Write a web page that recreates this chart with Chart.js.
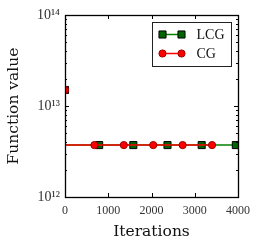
<!DOCTYPE html>
<html>
<head>
<meta charset="utf-8">
<script src="https://cdn.jsdelivr.net/npm/chart.js@4/dist/chart.umd.min.js"></script>
<style>
  html, body { margin: 0; padding: 0; background: #fff; }
  #wrap { width: 266px; height: 249px; }
</style>
</head>
<body>
<div id="wrap"><canvas id="chart"></canvas></div>
<script>
"use strict";

// values
const lcgIters  = [0, 0, 790, 1580, 2370, 3160, 3950];
const lcgValues = [1.5e13, 3.72e12, 3.72e12, 3.72e12, 3.72e12, 3.72e12, 3.72e12];
const cgIters   = [0, 0, 680, 1360, 2040, 2720, 3400];
const cgValues  = [1.5e13, 3.72e12, 3.72e12, 3.72e12, 3.72e12, 3.72e12, 3.72e12];
const xTicks = [0, 1000, 2000, 3000, 4000];
const yDecades = [1e12, 1e13, 1e14];
const seriesNames = ["LCG", "CG"];

const SUP = { "0": "\u2070", "1": "\u00b9", "2": "\u00b2", "3": "\u00b3", "4": "\u2074",
              "5": "\u2075", "6": "\u2076", "7": "\u2077", "8": "\u2078", "9": "\u2079" };
function powLabel(v) {
    const e = String(Math.round(Math.log10(v)));
    return "10" + e.split("").map(c => SUP[c]).join("");
}
function toPoints(xs, ys) {
    return xs.map((x, i) => ({ x: x, y: ys[i] }));
}
// marker on every point except the drop right after the start
function radii(xs, r) {
    return xs.map((x, i) => (i === 1 ? 0 : r));
}
// the drop at iteration 0 sits under the axis spine
const hideDrop = { borderColor: c => (c.p0DataIndex === 0 ? "rgba(0,0,0,0)" : undefined) };

const LCG_STYLE = { line: "#008000", fill: "#006400", edge: "#000000", shape: "rect", r: 5 };
const CG_STYLE  = { line: "#ff0000", fill: "#ff0000", edge: "#990000", shape: "circle", r: 3.6 };

const framePlugin = {
    id: "frame",
    afterDatasetsDraw(chart) {
        const ctx = chart.ctx;
        const a = chart.chartArea;
        const xs = chart.scales.x;
        const ys = chart.scales.y;
        ctx.save();
        ctx.strokeStyle = "#000";
        ctx.lineWidth = 1;
        ctx.beginPath();
        // x ticks, bottom and top, pointing in
        xTicks.forEach(v => {
            const px = Math.round(xs.getPixelForValue(v)) + 0.5;
            ctx.moveTo(px, a.bottom); ctx.lineTo(px, a.bottom - 4);
            ctx.moveTo(px, a.top); ctx.lineTo(px, a.top + 4);
        });
        // y ticks, major and minor, both sides
        yDecades.forEach((d, j) => {
            const py = Math.round(ys.getPixelForValue(d)) + 0.5;
            ctx.moveTo(a.left, py); ctx.lineTo(a.left + 4, py);
            ctx.moveTo(a.right, py); ctx.lineTo(a.right - 4, py);
            if (j < yDecades.length - 1) {
                for (let k = 2; k <= 9; k++) {
                    const my = Math.round(ys.getPixelForValue(k * d)) + 0.5;
                    ctx.moveTo(a.left, my); ctx.lineTo(a.left + 2, my);
                    ctx.moveTo(a.right, my); ctx.lineTo(a.right - 2, my);
                }
            }
        });
        ctx.stroke();
        ctx.lineWidth = 1.3;
        ctx.strokeRect(Math.round(a.left) + 0.5, Math.round(a.top) + 0.5,
                       Math.round(a.right - a.left), Math.round(a.bottom - a.top));

        // legend in the upper right corner
        const bx = Math.round(a.right) - 85.5, by = Math.round(a.top) + 7.5;
        const bw = 79, bh = 44;
        ctx.fillStyle = "#fff";
        ctx.fillRect(bx, by, bw, bh);
        ctx.lineWidth = 1;
        ctx.strokeStyle = "#222";
        ctx.strokeRect(bx, by, bw, bh);
        [LCG_STYLE, CG_STYLE].forEach((s, i) => {
            const ly = by + 12 + i * 19;
            const x1 = bx + 10, x2 = bx + 29;
            ctx.strokeStyle = s.line;
            ctx.lineWidth = 1.5;
            ctx.beginPath(); ctx.moveTo(x1, ly); ctx.lineTo(x2, ly); ctx.stroke();
            ctx.fillStyle = s.fill;
            ctx.strokeStyle = s.edge;
            ctx.lineWidth = 1;
            [x1, x2].forEach(px => {
                Chart.helpers.drawPoint(ctx, { pointStyle: s.shape, radius: s.r, rotation: 0, borderWidth: 1 }, px, ly);
            });
            ctx.fillStyle = "#111";
            ctx.font = "14px 'Liberation Serif', serif";
            ctx.textBaseline = "middle";
            ctx.textAlign = "left";
            ctx.fillText(seriesNames[i], bx + 44, ly + 1);
        });
        ctx.restore();
    }
};

const ctx = document.getElementById("chart").getContext("2d");
new Chart(ctx, {
    type: "line",
    data: {
        datasets: [
            {
                label: seriesNames[0],
                data: toPoints(lcgIters, lcgValues),
                borderColor: LCG_STYLE.line,
                borderWidth: 1.5,
                pointStyle: LCG_STYLE.shape,
                pointRadius: radii(lcgIters, LCG_STYLE.r),
                pointBackgroundColor: LCG_STYLE.fill,
                pointBorderColor: LCG_STYLE.edge,
                pointBorderWidth: 1,
                segment: hideDrop,
                tension: 0,
                clip: 0,
                order: 1
            },
            {
                label: seriesNames[1],
                data: toPoints(cgIters, cgValues),
                borderColor: CG_STYLE.line,
                borderWidth: 1.5,
                pointStyle: CG_STYLE.shape,
                pointRadius: radii(cgIters, CG_STYLE.r),
                pointBackgroundColor: CG_STYLE.fill,
                pointBorderColor: CG_STYLE.edge,
                pointBorderWidth: 1,
                segment: hideDrop,
                tension: 0,
                clip: 0,
                order: 0
            }
        ]
    },
    options: {
        responsive: true,
        maintainAspectRatio: false,
        animation: false,
        devicePixelRatio: 1,
        layout: { padding: { left: 0, right: 28, top: 15, bottom: 0 } },
        plugins: {
            legend: { display: false },
            tooltip: { enabled: false }
        },
        scales: {
            x: {
                type: "linear",
                min: 0,
                max: 4000,
                afterBuildTicks: s => { s.ticks = xTicks.map(v => ({ value: v })); },
                afterFit: s => { s.height = 52; },
                grid: { display: false, drawTicks: false },
                border: { display: false },
                ticks: {
                    padding: 7,
                    maxRotation: 0,
                    color: "#333",
                    font: { family: "'Liberation Serif', serif", size: 12 },
                    callback: v => String(v)
                },
                title: {
                    display: true,
                    text: "Iterations",
                    color: "#111",
                    padding: { top: 0, bottom: 8 },
                    font: { family: "'DejaVu Serif', serif", size: 15.5 }
                }
            },
            y: {
                type: "logarithmic",
                min: 1e12,
                max: 1e14,
                afterBuildTicks: s => { s.ticks = yDecades.map(v => ({ value: v })); },
                afterFit: s => { s.width = 65; },
                grid: { display: false, drawTicks: false },
                border: { display: false },
                ticks: {
                    padding: 5,
                    color: "#333",
                    font: { family: "'Liberation Serif', serif", size: 14 },
                    callback: v => powLabel(v)
                },
                title: {
                    display: true,
                    text: "Function value",
                    color: "#111",
                    padding: { top: 5, bottom: 0 },
                    font: { family: "'DejaVu Serif', serif", size: 15.5 }
                }
            }
        }
    },
    plugins: [framePlugin]
});
</script>
</body>
</html>
